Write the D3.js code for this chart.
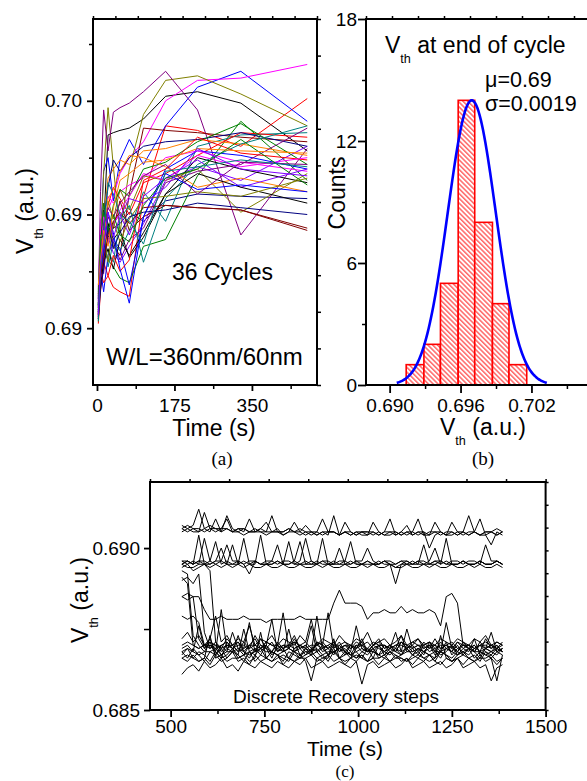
<!DOCTYPE html>
<html lang="en">
<head>
<meta charset="UTF-8">
<title>Vth cycles and recovery</title>
<script src="https://cdn.jsdelivr.net/npm/d3@7"></script>
<style>
  body { margin: 0; background: #fff; }
  svg text { fill: #000; }
</style>
</head>
<body>
<svg id="fig" width="587" height="781"></svg>
<script>
// ---------- (a) Vth (mV) vs time for 36 cycles ----------
const timesA = [3, 8, 15, 25, 37, 52, 73, 105, 155, 227, 325, 475];
const cyclesA = [
  [690.5, 692.8, 694.4, 698.5, 698.6, 698.7, 698.8, 699.2, 700.2, 700.4, 699.9, 697.8],
  [690.2, 691.6, 692.9, 692.3, 691.8, 691.6, 691.4, 695.8, 698.9, 698.7, 698.0, 700.1],
  [691.0, 693.9, 696.9, 697.5, 695.6, 697.4, 698.3, 697.2, 698.9, 700.6, 701.3, 699.1],
  [691.2, 694.7, 695.3, 695.2, 695.8, 696.8, 697.5, 698.2, 700.0, 700.9, 701.0, 701.6],
  [690.4, 693.4, 696.8, 699.7, 697.1, 694.2, 697.0, 699.4, 700.9, 701.1, 700.3, 698.9],
  [690.9, 692.1, 693.5, 694.0, 694.4, 694.6, 695.1, 694.7, 695.6, 695.9, 695.8, 695.7],
  [691.3, 696.0, 699.6, 697.8, 699.5, 699.7, 699.9, 700.4, 701.3, 699.6, 694.1, 697.9],
  [690.6, 691.9, 693.1, 694.6, 693.6, 693.2, 695.9, 698.8, 698.7, 698.6, 698.4, 698.2],
  [690.7, 692.8, 693.4, 693.0, 692.7, 692.2, 692.0, 693.6, 693.9, 696.7, 699.1, 696.5],
  [690.8, 693.1, 694.6, 692.7, 693.8, 693.4, 694.3, 696.0, 694.7, 698.0, 698.5, 698.6],
  [691.5, 692.4, 694.8, 696.6, 697.0, 697.4, 697.2, 697.8, 697.9, 698.3, 698.1, 697.6],
  [690.5, 692.3, 693.2, 694.0, 693.3, 692.9, 693.6, 694.6, 696.5, 697.1, 696.5, 698.0],
  [691.0, 693.2, 695.2, 694.6, 693.9, 694.3, 693.1, 694.0, 695.9, 697.5, 697.0, 696.4],
  [690.4, 692.1, 694.0, 695.4, 696.2, 695.7, 695.0, 696.4, 696.8, 697.6, 698.6, 698.4],
  [690.7, 692.6, 691.6, 693.2, 693.9, 693.5, 691.9, 694.9, 697.0, 697.8, 697.6, 697.0],
  [691.8, 694.3, 695.0, 695.8, 695.5, 696.0, 696.3, 696.6, 697.5, 697.8, 697.3, 696.9],
  [690.3, 692.0, 693.6, 695.6, 694.8, 696.1, 695.2, 696.7, 696.5, 697.0, 695.1, 696.8],
  [691.4, 692.9, 694.7, 696.2, 697.4, 696.9, 697.5, 698.0, 698.2, 698.3, 698.6, 698.0],
  [690.6, 693.0, 692.4, 694.3, 693.8, 693.0, 693.9, 694.4, 696.4, 696.9, 697.2, 698.8],
  [691.1, 692.4, 693.8, 694.9, 694.4, 695.6, 694.3, 694.9, 695.4, 695.3, 695.2, 694.3],
  [690.9, 693.6, 695.1, 694.2, 695.4, 696.1, 695.8, 697.0, 697.3, 698.2, 699.0, 697.2],
  [691.6, 694.1, 693.5, 693.4, 692.9, 694.8, 695.4, 692.9, 695.7, 697.2, 698.1, 698.9],
  [690.6, 692.7, 693.9, 695.7, 696.1, 696.9, 697.6, 697.5, 697.1, 696.2, 696.6, 696.0],
  [691.2, 693.4, 694.5, 693.7, 694.6, 695.0, 694.1, 695.8, 696.6, 697.4, 696.2, 697.0],
  [690.8, 691.9, 692.9, 693.5, 692.6, 693.9, 693.2, 694.2, 695.9, 696.8, 696.2, 695.5],
  [690.9, 692.5, 692.0, 692.3, 693.2, 692.5, 693.0, 696.5, 697.0, 698.4, 697.7, 697.4],
  [691.3, 692.2, 693.3, 695.1, 694.2, 692.6, 691.1, 694.9, 696.8, 696.1, 696.3, 696.0],
  [690.5, 693.5, 694.9, 694.4, 694.5, 695.2, 695.8, 696.8, 696.5, 697.6, 697.1, 697.5],
  [691.7, 693.8, 694.1, 692.9, 694.7, 693.8, 694.8, 695.7, 695.8, 696.0, 695.8, 696.6],
  [690.4, 691.7, 692.6, 694.5, 693.5, 694.2, 694.9, 695.1, 695.2, 695.5, 695.3, 695.0],
  [691.5, 693.3, 694.4, 695.3, 694.9, 695.5, 696.0, 696.7, 697.2, 695.9, 697.3, 697.2],
  [690.7, 692.3, 693.0, 694.1, 694.7, 695.1, 694.6, 695.3, 695.4, 695.3, 695.2, 694.4],
  [691.0, 693.7, 695.5, 694.3, 695.0, 694.1, 693.8, 695.4, 696.6, 697.0, 698.3, 696.3],
  [690.3, 692.6, 694.2, 696.4, 695.9, 695.0, 694.7, 693.7, 696.9, 697.1, 697.4, 697.1],
  [691.9, 693.0, 694.3, 693.6, 695.3, 696.5, 696.8, 697.3, 697.4, 697.9, 697.8, 697.7],
  [690.6, 692.9, 693.7, 695.1, 694.0, 694.9, 695.7, 695.5, 696.2, 697.9, 697.0, 696.7]
];
const colorsA = ["#000000", "#ff0000", "#0000ff", "#ff00ff", "#808000", "#000080",
                 "#800080", "#800000", "#008000", "#008080", "#ff8000", "#8000ff"];
const xTicksA = [0, 175, 350];
const xMinorA = [87.5, 262.5, 437.5];
const yTicksA = [690, 695, 700];
const yTickLabelsA = ["0.69", "0.69", "0.70"];
const yMinorA = [692.5, 697.5, 702.5];

// ---------- (b) histogram of Vth at end of cycle ----------
const binEdgesB = [0.6914, 0.6929, 0.6943, 0.6958, 0.6972, 0.6987, 0.7001, 0.7016];
const countsB = [1, 2, 5, 14, 8, 4, 1];
const fitMuB = 0.69695, fitSigmaB = 0.00203, fitAmpB = 14;
const fitRangeB = [0.6906, 0.7033];
const xTicksB = [0.690, 0.696, 0.702];
const xMinorB = [0.693, 0.699, 0.705];
const yTicksB = [0, 6, 12, 18];
const yMinorB = [3, 9, 15];

// ---------- (c) recovery traces (mV) ----------
const timesC = [530, 545, 560, 575, 590, 605, 620, 635, 650, 665,
  680, 695, 710, 725, 740, 755, 770, 785, 800, 815,
  830, 845, 860, 875, 890, 905, 920, 935, 950, 965,
  980, 995, 1010, 1025, 1040, 1055, 1070, 1085, 1100, 1115,
  1130, 1145, 1160, 1175, 1190, 1205, 1220, 1235, 1250, 1265,
  1280, 1295, 1310, 1325, 1340, 1355, 1370, 1385];
const tracesC = [
  // upper level
  [690.6, 690.5, 690.6, 690.5, 691.1, 690.6, 690.5, 690.6, 690.6, 690.5,
   690.6, 690.5, 690.9, 690.5, 690.6, 690.5, 690.5, 690.6, 690.4, 690.5,
   690.5, 690.6, 690.5, 690.4, 690.5, 690.9, 690.5, 690.5, 690.4, 690.5,
   690.4, 690.5, 690.5, 690.4, 690.8, 690.5, 690.4, 690.5, 690.5, 690.4,
   690.5, 690.5, 690.9, 690.4, 690.5, 690.5, 690.4, 690.5, 690.5, 690.4,
   690.5, 691.0, 690.5, 690.4, 690.5, 690.5, 690.4, 690.5],
  [690.7, 690.6, 690.7, 691.2, 690.6, 690.7, 690.6, 690.6, 690.9, 690.5,
   690.6, 690.6, 690.5, 690.6, 690.5, 690.5, 691.0, 690.5, 690.5, 690.6,
   690.5, 690.4, 690.5, 690.5, 690.5, 690.4, 690.5, 690.5, 690.4, 690.5,
   690.5, 690.4, 690.5, 690.5, 690.4, 690.5, 690.4, 690.4, 690.5, 690.4,
   690.5, 690.4, 690.5, 690.4, 690.4, 690.8, 690.5, 690.4, 690.4, 690.5,
   690.5, 690.4, 690.5, 690.9, 690.4, 690.5, 690.4, 690.5],
  [690.5, 690.6, 690.5, 690.5, 690.6, 690.5, 690.9, 690.5, 690.6, 690.5,
   690.5, 690.4, 690.5, 690.5, 690.5, 690.4, 690.5, 690.5, 690.4, 690.5,
   690.8, 690.5, 690.4, 690.5, 690.4, 690.5, 690.4, 691.0, 690.4, 690.5,
   690.4, 690.5, 690.4, 690.4, 690.5, 690.4, 690.5, 690.9, 690.4, 690.5,
   690.4, 690.5, 690.4, 690.5, 690.0, 690.4, 690.5, 690.4, 690.5, 690.4,
   690.5, 690.4, 690.5, 690.4, 690.4, 690.1, 690.5, 690.4],
  [690.6, 690.7, 690.6, 690.6, 690.5, 690.6, 690.6, 690.5, 691.0, 690.6,
   690.5, 690.6, 690.5, 690.5, 690.6, 690.8, 690.5, 690.5, 690.5, 690.6,
   690.5, 690.5, 690.7, 690.5, 690.4, 690.5, 690.5, 690.5, 690.4, 690.8,
   690.5, 690.4, 690.5, 690.5, 690.5, 690.4, 690.5, 690.5, 690.4, 690.5,
   690.7, 690.4, 690.5, 690.5, 690.4, 690.5, 690.5, 690.4, 690.8, 690.5,
   690.4, 690.5, 690.5, 690.4, 690.5, 690.5, 690.6, 690.5],
  // second level
  [689.6, 689.5, 689.6, 689.5, 690.3, 689.6, 689.5, 689.6, 689.5, 690.1,
   689.5, 689.6, 689.5, 689.5, 690.4, 689.5, 689.5, 689.6, 689.5, 689.5,
   689.6, 690.2, 689.5, 689.5, 689.6, 689.5, 689.5, 689.5, 690.0, 689.5,
   689.5, 689.6, 689.5, 689.5, 689.5, 689.6, 689.5, 689.5, 689.4, 689.5,
   689.6, 689.5, 689.5, 690.1, 689.5, 689.5, 689.6, 689.5, 689.5, 689.5,
   689.6, 689.5, 689.5, 689.6, 689.5, 689.5, 689.6, 689.5],
  [689.5, 689.6, 689.5, 689.6, 689.5, 689.6, 690.2, 689.5, 689.6, 689.5,
   689.5, 690.3, 689.5, 689.6, 689.5, 689.5, 689.6, 690.1, 689.5, 689.5,
   689.6, 689.5, 689.5, 689.6, 689.5, 690.3, 689.5, 689.6, 689.5, 689.5,
   689.6, 689.5, 689.5, 689.6, 689.5, 689.5, 689.6, 689.5, 688.9, 689.5,
   689.5, 689.6, 689.5, 689.5, 689.6, 690.0, 689.5, 689.6, 689.5, 689.5,
   689.6, 689.5, 689.5, 689.6, 689.5, 689.5, 689.6, 689.5],
  [689.5, 689.6, 689.5, 690.4, 689.5, 689.5, 689.6, 690.0, 689.5, 689.5,
   689.6, 689.5, 689.2, 689.6, 689.5, 689.5, 689.5, 689.6, 689.5, 690.2,
   689.5, 689.5, 689.6, 689.5, 689.5, 689.6, 689.5, 689.5, 689.5, 689.6,
   690.2, 689.5, 689.5, 689.6, 689.5, 689.5, 689.6, 689.5, 689.5, 689.6,
   689.5, 689.5, 689.6, 689.5, 689.5, 689.6, 689.5, 690.3, 689.5, 689.5,
   689.6, 689.5, 689.5, 689.6, 689.5, 689.5, 689.6, 689.5],
  [689.5, 689.4, 689.4, 689.5, 689.5, 689.4, 689.5, 689.4, 689.5, 689.4,
   689.5, 689.4, 689.5, 689.4, 689.4, 689.5, 689.4, 689.4, 689.5, 689.4,
   689.4, 689.5, 689.4, 689.4, 689.5, 689.4, 689.5, 689.4, 689.4, 689.5,
   689.4, 689.4, 689.5, 689.4, 689.5, 689.4, 689.4, 689.5, 689.4, 689.4,
   689.5, 689.4, 689.4, 689.5, 689.4, 689.5, 689.4, 689.4, 689.5, 689.4,
   689.4, 689.5, 689.4, 689.5, 689.4, 689.4, 689.5, 689.4],
  [689.6, 689.6, 689.5, 689.6, 689.6, 689.5, 689.6, 689.6, 690.1, 689.6,
   689.6, 689.5, 689.6, 689.6, 689.5, 689.6, 689.6, 689.5, 689.6, 689.6,
   689.5, 689.6, 690.3, 689.6, 689.5, 689.6, 689.6, 689.5, 689.6, 689.6,
   689.5, 689.6, 689.6, 690.0, 689.6, 689.5, 689.6, 689.6, 689.5, 689.6,
   689.6, 689.5, 689.6, 689.6, 689.5, 689.6, 689.6, 689.5, 689.6, 689.6,
   689.5, 689.6, 689.6, 689.5, 690.1, 689.6, 689.6, 689.5],
  // stepping trace
  [688.5, 688.6, 688.5, 688.5, 688.1, 687.8, 687.8, 687.9, 687.8, 687.8,
   687.8, 687.9, 687.8, 687.8, 687.8, 687.7, 687.8, 687.8, 687.8, 687.8,
   687.8, 687.9, 687.8, 687.8, 687.8, 687.8, 687.8, 688.3, 688.7, 688.3,
   688.3, 688.3, 688.2, 687.8, 688.0, 688.0, 688.1, 688.0, 688.0, 688.2,
   688.0, 688.1, 688.0, 688.0, 688.1, 688.0, 687.6, 688.5, 688.6, 688.3,
   687.0, 686.9, 687.0, 686.8, 686.9, 687.0, 686.8, 686.9],
  // lower level
  [689.3, 689.2, 687.3, 687.0, 686.8, 687.1, 686.7, 687.0, 686.8, 687.4,
   686.9, 686.7, 687.0, 686.8, 687.2, 686.9, 686.6, 687.0, 686.8, 686.9,
   687.1, 686.7, 686.9, 687.6, 686.8, 686.9, 686.7, 687.0, 686.8, 686.9,
   686.7, 687.0, 686.8, 686.9, 686.6, 687.0, 686.8, 686.7, 686.9, 687.3,
   686.8, 686.9, 686.7, 687.0, 686.8, 686.9, 686.7, 686.8, 687.0, 686.7,
   686.9, 686.8, 687.2, 686.7, 686.9, 686.8, 686.7, 686.9],
  [688.5, 688.4, 688.5, 687.2, 686.9, 687.2, 686.8, 686.6, 687.1, 686.9,
   686.7, 687.5, 686.8, 686.9, 686.7, 687.0, 687.8, 686.8, 686.9, 686.6,
   686.9, 687.0, 686.8, 686.7, 687.1, 686.8, 686.9, 686.7, 687.0, 686.8,
   686.6, 686.9, 687.2, 686.8, 686.9, 686.7, 687.0, 686.8, 686.9, 686.7,
   687.0, 686.8, 686.9, 686.7, 687.1, 686.8, 686.6, 686.9, 686.8, 687.0,
   686.7, 686.9, 686.8, 686.6, 686.9, 686.8, 687.0, 686.8],
  [689.0, 689.1, 688.9, 689.2, 687.4, 686.9, 687.0, 686.7, 686.9, 686.8,
   687.3, 686.8, 686.6, 686.9, 686.8, 687.0, 686.7, 686.9, 686.8, 687.5,
   686.8, 686.9, 686.7, 686.9, 686.8, 687.0, 686.7, 686.8, 686.9, 686.7,
   687.0, 686.8, 686.6, 686.9, 686.8, 687.0, 686.7, 686.9, 687.4, 686.8,
   686.9, 686.7, 686.9, 686.8, 687.0, 686.7, 686.8, 687.1, 686.7, 686.9,
   686.8, 686.7, 686.9, 687.0, 686.8, 686.7, 686.9, 686.8],
  [687.2, 687.4, 687.1, 687.3, 687.0, 687.2, 687.9, 687.1, 687.3, 687.0,
   687.2, 687.1, 687.6, 687.0, 687.2, 687.1, 687.3, 687.0, 687.2, 687.1,
   687.0, 687.3, 687.1, 687.8, 687.0, 687.2, 687.1, 687.0, 687.3, 687.1,
   687.0, 687.2, 687.1, 687.4, 687.0, 687.1, 687.2, 687.0, 687.1, 687.3,
   687.0, 687.1, 687.2, 687.0, 687.1, 687.0, 687.2, 687.1, 687.0, 687.2,
   687.1, 687.0, 687.2, 687.1, 687.3, 687.0, 687.1, 687.0],
  [686.6, 686.5, 686.7, 686.5, 686.6, 686.4, 686.7, 686.5, 686.6, 686.8,
   686.5, 686.6, 686.4, 686.7, 686.5, 686.6, 686.5, 686.7, 686.4, 686.6,
   686.5, 686.7, 686.5, 685.9, 686.6, 686.5, 686.7, 686.5, 686.6, 686.4,
   686.6, 686.5, 686.7, 686.5, 686.6, 686.4, 686.6, 686.5, 686.7, 686.5,
   686.6, 686.4, 686.6, 686.5, 686.7, 686.5, 686.4, 686.6, 686.5, 686.6,
   686.4, 686.6, 686.5, 686.7, 686.5, 686.6, 686.4, 686.6],
  [686.1, 686.3, 686.4, 686.2, 686.5, 686.3, 686.4, 686.6, 686.3, 686.4,
   686.2, 686.5, 686.4, 686.3, 686.5, 686.4, 686.3, 686.5, 686.4, 686.3,
   686.5, 686.4, 686.6, 686.3, 686.4, 686.5, 686.3, 686.4, 686.5, 686.4,
   686.3, 686.5, 685.8, 686.4, 686.5, 686.3, 686.4, 686.5, 686.3, 686.4,
   686.6, 686.3, 686.4, 686.5, 686.3, 686.4, 686.5, 686.3, 686.4, 686.6,
   686.3, 686.4, 686.5, 686.3, 686.4, 685.9, 686.3, 686.4],
  [686.9, 687.0, 686.8, 687.6, 686.9, 687.0, 686.8, 688.1, 686.9, 687.0,
   686.8, 686.9, 687.7, 686.8, 687.0, 686.9, 686.8, 687.0, 688.0, 686.9,
   686.8, 687.0, 686.9, 686.8, 687.9, 686.9, 687.0, 686.8, 686.9, 687.0,
   686.8, 687.6, 686.9, 686.8, 687.0, 686.9, 686.8, 687.0, 686.9, 686.8,
   687.5, 686.9, 687.0, 686.8, 686.9, 687.0, 686.8, 687.7, 686.9, 686.8,
   687.0, 686.9, 686.8, 687.0, 686.9, 687.4, 686.8, 686.9],
  [686.8, 686.6, 686.9, 686.7, 686.5, 686.8, 686.7, 686.9, 686.6, 686.8,
   686.7, 686.5, 686.8, 686.7, 686.9, 686.6, 686.8, 686.7, 686.5, 686.8,
   686.7, 686.6, 686.9, 686.7, 686.8, 686.6, 686.7, 686.9, 686.6, 686.8,
   686.7, 686.6, 686.8, 686.7, 686.9, 686.6, 686.7, 686.8, 686.6, 686.7,
   686.9, 686.7, 686.6, 686.8, 686.7, 686.5, 686.8, 686.7, 686.6, 686.8,
   686.7, 686.9, 686.6, 686.8, 686.7, 686.6, 686.8, 686.7],
  [687.9, 687.8, 687.9, 687.7, 687.0, 686.9, 687.1, 686.8, 687.0, 686.9,
   687.1, 686.8, 687.0, 687.2, 686.9, 687.0, 686.8, 687.1, 686.9, 687.0,
   687.3, 686.9, 687.0, 686.8, 687.1, 687.0, 686.9, 687.1, 686.8, 687.0,
   686.9, 687.1, 687.0, 686.8, 687.0, 687.1, 686.9, 687.0, 686.8, 687.1,
   686.9, 687.0, 686.8, 687.1, 686.9, 687.2, 686.9, 687.0, 686.8, 687.1,
   686.9, 687.0, 686.8, 687.1, 686.9, 687.0, 686.9, 687.1],
  [686.7, 686.9, 686.6, 686.8, 686.7, 686.5, 686.8, 686.6, 686.7, 686.9,
   686.6, 686.7, 686.8, 686.5, 686.7, 686.6, 686.8, 686.7, 686.6, 686.5,
   686.8, 686.6, 686.7, 686.8, 686.6, 686.7, 686.5, 686.8, 686.6, 686.7,
   686.8, 686.6, 686.7, 686.5, 686.8, 686.7, 686.6, 686.8, 686.7, 686.6,
   686.5, 686.7, 686.8, 686.6, 686.7, 686.6, 686.8, 686.7, 686.5, 686.7,
   686.8, 686.6, 686.7, 686.5, 686.8, 686.6, 685.9, 686.7],
  [689.4, 689.5, 689.3, 689.4, 689.5, 689.3, 687.1, 686.9, 687.2, 687.0,
   686.8, 687.1, 686.9, 687.3, 687.0, 686.9, 687.1, 686.8, 687.0, 686.9,
   687.2, 686.9, 687.0, 686.8, 687.1, 687.0, 688.0, 686.9, 687.1, 686.8,
   687.0, 686.9, 687.1, 686.8, 687.0, 687.2, 686.9, 687.0, 686.8, 687.1,
   686.9, 687.0, 687.2, 686.9, 687.0, 686.8, 687.1, 686.9, 687.0, 686.8,
   687.1, 686.9, 687.0, 686.8, 687.2, 686.9, 687.0, 686.8],
  [687.0, 687.1, 687.0, 686.9, 687.0, 687.1, 687.0, 686.9, 687.0, 687.0,
   687.1, 686.9, 687.0, 687.0, 686.9, 687.1, 687.0, 687.0, 686.9, 687.0,
   687.1, 687.0, 686.9, 687.0, 687.0, 687.1, 686.9, 687.0, 687.0, 687.1,
   686.9, 687.0, 687.0, 686.9, 687.1, 687.0, 687.0, 686.9, 687.0, 687.1,
   687.0, 686.9, 687.0, 687.0, 687.1, 686.9, 687.0, 687.0, 686.9, 687.1,
   687.0, 687.0, 686.9, 687.0, 687.1, 687.0, 686.9, 687.0],
  [686.8, 686.9, 686.8, 686.7, 686.8, 686.8, 686.9, 686.7, 686.8, 686.8,
   686.9, 686.8, 686.7, 686.8, 686.9, 686.8, 686.8, 686.7, 686.8, 686.9,
   686.8, 686.7, 686.8, 686.8, 686.9, 686.7, 686.8, 686.8, 686.9, 686.8,
   686.7, 686.8, 686.9, 686.8, 686.8, 686.7, 686.8, 686.9, 686.8, 686.7,
   686.8, 686.8, 686.9, 686.8, 686.7, 686.8, 686.8, 686.9, 686.8, 686.7,
   686.8, 686.9, 686.8, 686.8, 686.7, 686.8, 686.9, 686.8],
  [686.6, 686.7, 686.6, 686.5, 686.6, 687.3, 686.6, 686.7, 686.5, 686.6,
   686.6, 686.7, 686.5, 686.6, 687.4, 686.6, 686.5, 686.6, 686.7, 686.6,
   686.5, 686.6, 686.6, 686.7, 686.5, 686.6, 686.6, 687.2, 686.6, 686.5,
   686.6, 686.7, 686.6, 686.5, 686.6, 686.6, 686.7, 686.5, 686.6, 686.6,
   686.5, 686.6, 686.7, 686.6, 686.5, 686.6, 687.3, 686.6, 686.5, 686.6,
   686.7, 686.6, 686.5, 686.6, 686.6, 686.7, 686.5, 686.6],
  [689.1, 688.9, 687.0, 686.9, 687.0, 687.0, 686.9, 687.0, 687.1, 686.9,
   687.0, 687.0, 686.9, 687.0, 686.9, 687.1, 687.0, 686.9, 687.0, 687.0,
   686.9, 687.0, 687.1, 686.9, 687.0, 686.9, 687.0, 687.1, 686.9, 687.0,
   687.0, 686.9, 687.0, 687.1, 686.9, 687.0, 687.0, 686.9, 687.0, 687.0,
   686.9, 687.1, 687.0, 686.9, 687.0, 687.0, 686.9, 687.0, 687.1, 686.9,
   687.0, 687.0, 686.9, 687.0, 687.0, 686.9, 687.1, 687.0]
];
const xTicksC = [500, 750, 1000, 1250, 1500];
const xMinorC = [625, 875, 1125, 1375];
const yTicksC = [685, 690];
const yTickLabelsC = ["0.685", "0.690"];
const yMinorC = [687.5];

// ---------- drawing ----------
const FONT = "'Liberation Sans', Arial, Helvetica, sans-serif";
const SERIF = "'Liberation Serif', 'Times New Roman', serif";
const svg = d3.select("#fig");
svg.append("rect").attr("width", 587).attr("height", 781).attr("fill", "#fff");

function styleAxis(sel, fs) {
  sel.attr("font-family", FONT).attr("font-size", fs);
  sel.select(".domain").remove();
  sel.selectAll(".tick line").attr("stroke-width", 1.8);
  return sel;
}
function minorTicks(g, gen, tr) {
  const a = g.append("g").attr("transform", tr).call(gen.tickFormat(""));
  a.select(".domain").remove();
  a.selectAll(".tick line").attr("stroke-width", 1.5);
}
// small mirror ticks on the top / right frame edges
function edgeTicks(g, gen, tr) {
  minorTicks(g, gen.tickValues(d3.range(11)), tr);
}
function frame(g, x0, y0, x1, y1) {
  g.append("rect").attr("x", x0).attr("y", y0).attr("width", x1 - x0).attr("height", y1 - y0)
    .attr("fill", "none").attr("stroke", "#000").attr("stroke-width", 2);
}
function vthText(g, x, y, fs, rotate, rest, anchor = "middle") {
  const t = g.append("text")
    .attr("transform", `translate(${x},${y})` + (rotate ? " rotate(-90)" : ""))
    .attr("text-anchor", anchor).attr("font-family", FONT).attr("font-size", fs);
  t.append("tspan").text("V");
  t.append("tspan").attr("font-size", fs * 0.55).attr("dy", fs * 0.42).text("th");
  t.append("tspan").attr("dy", -fs * 0.42).text(rest);
  return t;
}
function plainText(g, x, y, fs, str, anchor = "start", family = FONT, rotate = false) {
  return g.append("text")
    .attr("transform", `translate(${x},${y})` + (rotate ? " rotate(-90)" : ""))
    .attr("text-anchor", anchor).attr("font-family", family).attr("font-size", fs).text(str);
}

// ----- panel (a) -----
const xA = d3.scaleLinear().domain([-9, 497]).range([93, 317]);
const yA = d3.scaleLinear().domain([687.5, 703.6]).range([385, 19]);
const gA = svg.append("g");
const lineA = d3.line().x((d, i) => xA(timesA[i])).y(d => yA(d));
gA.append("g").selectAll("path").data(cyclesA).join("path")
  .attr("fill", "none").attr("stroke-width", 1)
  .attr("stroke", (d, i) => colorsA[i % colorsA.length])
  .attr("d", lineA);

styleAxis(gA.append("g").attr("transform", "translate(93,0)")
  .call(d3.axisLeft(yA).tickValues(yTicksA).tickFormat((d, i) => yTickLabelsA[i]).tickSize(6).tickPadding(5)), 19);
minorTicks(gA, d3.axisLeft(yA).tickValues(yMinorA).tickSize(4), "translate(93,0)");
styleAxis(gA.append("g").attr("transform", "translate(0,385)")
  .call(d3.axisBottom(xA).tickValues(xTicksA).tickSize(6).tickPadding(8)), 19);
minorTicks(gA, d3.axisBottom(xA).tickValues(xMinorA).tickSize(4), "translate(0,385)");
edgeTicks(gA, d3.axisTop(d3.scaleLinear([0, 10], [93, 317])).tickSize(3), "translate(0,19)");
edgeTicks(gA, d3.axisRight(d3.scaleLinear([0, 10], [385, 19])).tickSize(4), "translate(317,0)");
frame(gA, 93, 19, 317, 385);

vthText(gA, 33, 211, 23, true, " (a.u.)");
plainText(gA, 214, 436, 23, "Time (s)", "middle");
plainText(gA, 172, 280, 23, "36 Cycles");
plainText(gA, 106, 365, 24, "W/L=360nm/60nm");
plainText(gA, 222, 465, 19, "(a)", "middle", SERIF);

// ----- panel (b) -----
const xB = d3.scaleLinear().domain([0.688, 0.710]).range([366, 626]);
const yB = d3.scaleLinear().domain([0, 18]).range([385, 19]);
const gB = svg.append("g");
const pat = svg.append("defs").append("pattern").attr("id", "hatch")
  .attr("patternUnits", "userSpaceOnUse").attr("width", 3.4).attr("height", 3.4)
  .attr("patternTransform", "rotate(-45)");
pat.append("rect").attr("width", 3.4).attr("height", 3.4).attr("fill", "#fff");
pat.append("line").attr("x1", 0.8).attr("y1", 0).attr("x2", 0.8).attr("y2", 3.4)
  .attr("stroke", "#ff0000").attr("stroke-width", 0.9);

gB.append("g").selectAll("rect").data(countsB).join("rect")
  .attr("x", (d, i) => xB(binEdgesB[i]))
  .attr("width", (d, i) => xB(binEdgesB[i + 1]) - xB(binEdgesB[i]))
  .attr("y", d => yB(d)).attr("height", d => yB(0) - yB(d))
  .attr("fill", "url(#hatch)").attr("stroke", "#ff0000").attr("stroke-width", 1.6);

const fitPts = d3.range(fitRangeB[0], fitRangeB[1] + 1e-9, 0.0001)
  .map(v => [v, fitAmpB * Math.exp(-((v - fitMuB) ** 2) / (2 * fitSigmaB ** 2))]);
gB.append("path").datum(fitPts)
  .attr("fill", "none").attr("stroke", "#0000ff").attr("stroke-width", 2.6)
  .attr("d", d3.line().x(d => xB(d[0])).y(d => yB(d[1])).curve(d3.curveMonotoneX));

styleAxis(gB.append("g").attr("transform", "translate(366,0)")
  .call(d3.axisLeft(yB).tickValues(yTicksB).tickSize(8).tickPadding(1)), 19);
minorTicks(gB, d3.axisLeft(yB).tickValues(yMinorB).tickSize(4), "translate(366,0)");
styleAxis(gB.append("g").attr("transform", "translate(0,385)")
  .call(d3.axisBottom(xB).tickValues(xTicksB).tickFormat(d3.format(".3f")).tickSize(8).tickPadding(6)), 19);
minorTicks(gB, d3.axisBottom(xB).tickValues(xMinorB).tickSize(4), "translate(0,385)");
edgeTicks(gB, d3.axisTop(d3.scaleLinear([0, 10], [366, 626])).tickSize(3), "translate(0,19)");
frame(gB, 366, 19, 626, 385);

plainText(gB, 345, 193, 23, "Counts", "middle", FONT, true);
vthText(gB, 483, 435, 23, false, " (a.u.)");
vthText(gB, 385, 53, 23, false, " at end of cycle", "start");
plainText(gB, 485, 87, 21.5, "\u03bc=0.69");
plainText(gB, 485, 111, 21.5, "\u03c3=0.0019");
plainText(gB, 483, 465, 19, "(b)", "middle", SERIF);

// ----- panel (c) -----
const xC = d3.scaleLinear().domain([445, 1500]).range([150, 545.6]);
const yC = d3.scaleLinear().domain([685, 692.04]).range([710, 482]);
const gC = svg.append("g");
const lineC = d3.line().x((d, i) => xC(timesC[i])).y(d => yC(d));
gC.append("g").selectAll("path").data(tracesC).join("path")
  .attr("fill", "none").attr("stroke", "#000").attr("stroke-width", 1)
  .attr("d", lineC);

styleAxis(gC.append("g").attr("transform", "translate(150,0)")
  .call(d3.axisLeft(yC).tickValues(yTicksC).tickFormat((d, i) => yTickLabelsC[i]).tickSize(6).tickPadding(4)), 19);
minorTicks(gC, d3.axisLeft(yC).tickValues(yMinorC).tickSize(6), "translate(150,0)");
styleAxis(gC.append("g").attr("transform", "translate(0,710)")
  .call(d3.axisBottom(xC).tickValues(xTicksC).tickFormat(d3.format("d")).tickSize(7).tickPadding(3)), 19);
minorTicks(gC, d3.axisBottom(xC).tickValues(xMinorC).tickSize(4), "translate(0,710)");
edgeTicks(gC, d3.axisTop(d3.scaleLinear([0, 10], [150, 545.6])).tickSize(3), "translate(0,482)");
edgeTicks(gC, d3.axisRight(d3.scaleLinear([0, 10], [710, 482])).tickSize(3), "translate(545.6,0)");
frame(gC, 150, 482, 545.6, 710);

vthText(gC, 88, 600, 23, true, " (a.u.)");
plainText(gC, 336, 703, 19, "Discrete Recovery steps", "middle");
plainText(gC, 345, 756, 21, "Time (s)", "middle");
plainText(gC, 345, 777, 17, "(c)", "middle", SERIF);
</script>
</body>
</html>
